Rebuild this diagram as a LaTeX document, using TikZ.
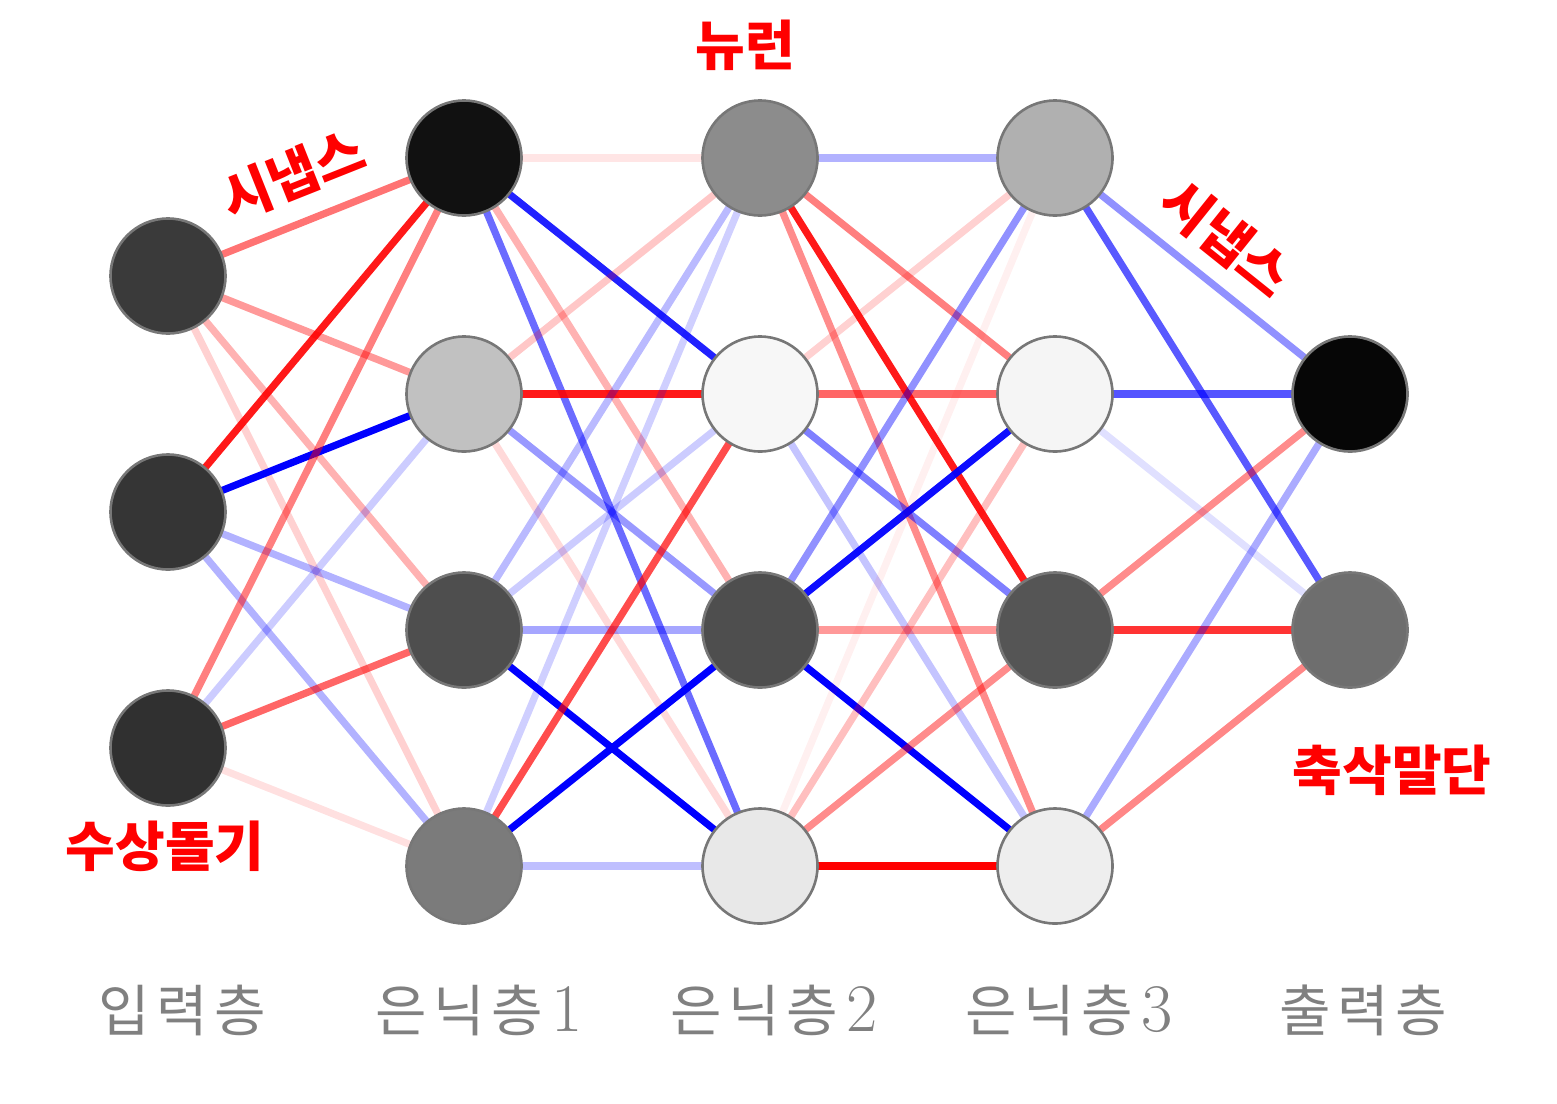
\documentclass[tikz,border=0pt]{standalone}
\usepackage{fontspec}
\newfontfamily\kr{Noto Sans CJK KR}
\newfontfamily\krw{Noto Sans CJK KR}[LetterSpace=12]
\definecolor{cI1}{HTML}{3A3A3A}
\definecolor{cI2}{HTML}{353535}
\definecolor{cI3}{HTML}{303030}
\definecolor{cA1}{HTML}{111111}
\definecolor{cA2}{HTML}{C1C1C1}
\definecolor{cA3}{HTML}{4E4E4E}
\definecolor{cA4}{HTML}{7B7B7B}
\definecolor{cB1}{HTML}{8C8C8C}
\definecolor{cB2}{HTML}{F7F7F7}
\definecolor{cB3}{HTML}{4E4E4E}
\definecolor{cB4}{HTML}{E8E8E8}
\definecolor{cC1}{HTML}{B0B0B0}
\definecolor{cC2}{HTML}{F5F5F5}
\definecolor{cC3}{HTML}{555555}
\definecolor{cC4}{HTML}{EEEEEE}
\definecolor{cO1}{HTML}{060606}
\definecolor{cO2}{HTML}{6E6E6E}
\definecolor{ringgray}{HTML}{777777}
\definecolor{labelgray}{HTML}{808080}
\definecolor{synred}{HTML}{FF0000}
\definecolor{synblue}{HTML}{0000FF}
\tikzset{
  neuron/.style={circle,draw=ringgray,line width=1.3pt,minimum size=57.5pt,inner sep=0pt},
  syn/.style={line width=3.6pt},
  redlabel/.style={text=synred,font=\kr\bfseries\fontsize{27}{27}\selectfont,inner sep=0pt},
  layerlabel/.style={text=labelgray,font=\fontsize{28}{28}\selectfont,inner sep=0pt}
}
\newcommand\synR[3]{\draw[syn,draw=synred,draw opacity=#3] (#1) -- (#2);}
\newcommand\synB[3]{\draw[syn,draw=synblue,draw opacity=#3] (#1) -- (#2);}
\newcommand\layerdigit[1]{\hspace{4pt}{\fontsize{34}{34}\selectfont #1}}
\begin{document}
\begin{tikzpicture}[x=0.5pt,y=-0.5pt]
\useasboundingbox (0,0) rectangle (1557,1103);
% coordinates of neurons
\coordinate (I1) at (168,276);
\coordinate (I2) at (168,512);
\coordinate (I3) at (168,748);
\foreach \n/\y in {1/158,2/394,3/630,4/866}{
  \coordinate (A\n) at (464,\y);
  \coordinate (B\n) at (760,\y);
  \coordinate (C\n) at (1055,\y);
}
\coordinate (O1) at (1350,394);
\coordinate (O2) at (1350,630);
% input -> hidden 1
\synR{I1}{A1}{0.55}
\synR{I1}{A2}{0.4}
\synR{I1}{A3}{0.3}
\synR{I1}{A4}{0.18}
\synR{I2}{A1}{0.9}
\synB{I2}{A2}{1}
\synB{I2}{A3}{0.3}
\synB{I2}{A4}{0.3}
\synR{I3}{A1}{0.5}
\synB{I3}{A2}{0.2}
\synR{I3}{A3}{0.6}
\synR{I3}{A4}{0.12}
% hidden 1 -> hidden 2
\synR{A1}{B1}{0.1}
\synB{A1}{B2}{0.87}
\synR{A1}{B3}{0.3}
\synB{A1}{B4}{0.58}
\synR{A2}{B1}{0.22}
\synR{A2}{B2}{0.9}
\synB{A2}{B3}{0.4}
\synR{A2}{B4}{0.15}
\synB{A3}{B1}{0.27}
\synB{A3}{B2}{0.2}
\synB{A3}{B3}{0.35}
\synB{A3}{B4}{1}
\synB{A4}{B1}{0.19}
\synR{A4}{B2}{0.7}
\synB{A4}{B3}{1}
\synB{A4}{B4}{0.25}
% hidden 2 -> hidden 3
\synB{B1}{C1}{0.3}
\synR{B1}{C2}{0.5}
\synR{B1}{C3}{0.9}
\synR{B1}{C4}{0.45}
\synR{B2}{C1}{0.18}
\synR{B2}{C2}{0.6}
\synB{B2}{C3}{0.5}
\synB{B2}{C4}{0.23}
\synB{B3}{C1}{0.43}
\synB{B3}{C2}{0.95}
\synR{B3}{C3}{0.4}
\synB{B3}{C4}{1}
\synR{B4}{C1}{0.06}
\synR{B4}{C2}{0.25}
\synR{B4}{C3}{0.45}
\synR{B4}{C4}{1}
% hidden 3 -> output
\synB{C1}{O1}{0.43}
\synB{C1}{O2}{0.65}
\synB{C2}{O1}{0.67}
\synB{C2}{O2}{0.12}
\synR{C3}{O1}{0.45}
\synR{C3}{O2}{0.8}
\synB{C4}{O1}{0.33}
\synR{C4}{O2}{0.47}
% neurons
\foreach \m in {I1,I2,I3,A1,A2,A3,A4,B1,B2,B3,B4,C1,C2,C3,C4,O1,O2}{
  \node[neuron,fill=c\m] (n\m) at (\m) {};
}
% red labels
\node[redlabel] (tneuron) at (745,45) {뉴런};
\node[redlabel,rotate=21.7] (tsyn1) at (293,175) {시냅스};
\node[redlabel,rotate=-38.7] (tsyn2) at (1226,238) {시냅스};
\node[redlabel] (tdend) at (165,846) {수상돌기};
\node[redlabel] (taxon) at (1392,770) {축삭말단};
% layer labels
\node[layerlabel] (l0) at (182,1010) {{\krw 입력층}};
\node[layerlabel] (l1) at (479,1010) {{\krw 은닉층}\layerdigit{1}};
\node[layerlabel] (l2) at (774,1010) {{\krw 은닉층}\layerdigit{2}};
\node[layerlabel] (l3) at (1069,1010) {{\krw 은닉층}\layerdigit{3}};
\node[layerlabel] (l4) at (1363,1010) {{\krw 출력층}};
\end{tikzpicture}
\end{document}
